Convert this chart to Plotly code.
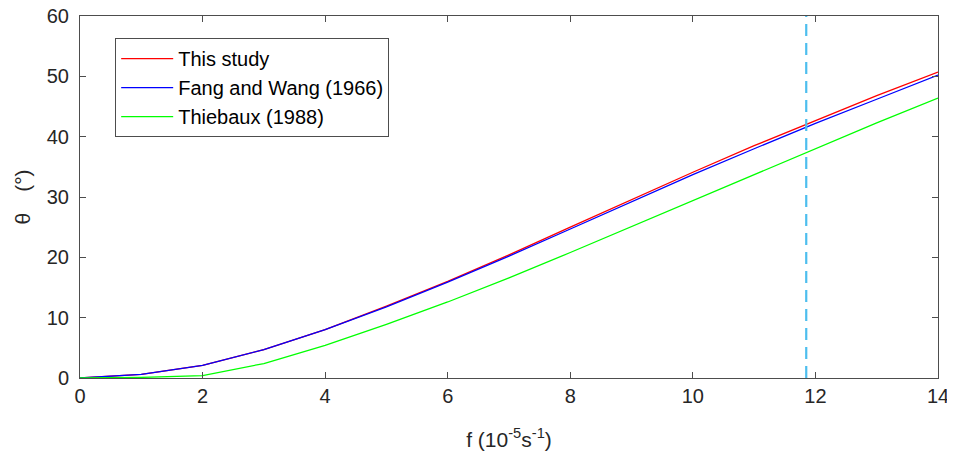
import plotly.graph_objects as go

f = [0, 1, 2, 3, 4, 5, 6, 7, 8, 9, 10, 11, 12, 13, 14]
this_study = [0, 0.6, 2.1, 4.7, 8.0, 11.9, 16.0, 20.4, 25.0, 29.6, 34.1, 38.5, 42.7, 46.8, 50.7]
fang_wang = [0, 0.6, 2.1, 4.7, 8.0, 11.8, 15.9, 20.2, 24.7, 29.2, 33.7, 38.0, 42.2, 46.2, 50.2]
thiebaux = [0, 0.1, 0.4, 2.4, 5.4, 8.9, 12.6, 16.6, 20.8, 25.1, 29.5, 33.8, 38.1, 42.3, 46.4]
f_crit = 11.85
x_ticks = [0, 2, 4, 6, 8, 10, 12, 14]
y_ticks = [0, 10, 20, 30, 40, 50, 60]

font = "Liberation Sans, Arial, sans-serif"
axcol = "#4d4d4d"
txtcol = "#262626"

fig = go.Figure()
fig.add_trace(go.Scatter(x=f, y=this_study, mode="lines", name="This study",
                         line=dict(color="#ff0000", width=1.3)))
fig.add_trace(go.Scatter(x=f, y=fang_wang, mode="lines", name="Fang and Wang (1966)",
                         line=dict(color="#0000ff", width=1.3)))
fig.add_trace(go.Scatter(x=f, y=thiebaux, mode="lines", name="Thiebaux (1988)",
                         line=dict(color="#00ff00", width=1.3)))
fig.add_trace(go.Scatter(x=[f_crit, f_crit], y=[0, 60], mode="lines", showlegend=False,
                         line=dict(color="#4DBEEE", width=2.2, dash="12px,7px")))

# page body has an 8px margin, so the figure is sized/offset to compensate
fig.update_layout(
    width=947, height=453,
    margin=dict(l=72, r=17, t=8, b=83),
    paper_bgcolor="white", plot_bgcolor="white",
    font=dict(family=font, size=20, color=txtcol),
    showlegend=True,
    legend=dict(x=0.041, y=0.939, xanchor="left", yanchor="top",
                bordercolor=axcol, borderwidth=1, bgcolor="white",
                font=dict(size=20, color="#000000"), tracegroupgap=0,
                itemwidth=52),
)
fig.update_xaxes(range=[0, 14], tickvals=x_ticks, ticks="inside", ticklen=6,
                 tickcolor=axcol, showline=True, linecolor=axcol, linewidth=1,
                 mirror="ticks", showgrid=False, zeroline=False, automargin=False,
                 title=dict(text="f (10<sup>-5</sup>s<sup>-1</sup>)", standoff=26,
                            font=dict(size=21)),
                 tickfont=dict(size=20, color=txtcol), ticklabeloverflow="allow")
fig.update_yaxes(range=[0, 60], tickvals=y_ticks, ticks="inside", ticklen=6,
                 tickcolor=axcol, showline=True, linecolor=axcol, linewidth=1,
                 mirror="ticks", showgrid=False, zeroline=False, automargin=False,
                 title=dict(text="θ\u2003(°)", standoff=10, font=dict(size=21)),
                 tickfont=dict(size=20, color=txtcol), ticklabelstandoff=6,
                 ticklabeloverflow="allow")

fig.write_html("out.html")
